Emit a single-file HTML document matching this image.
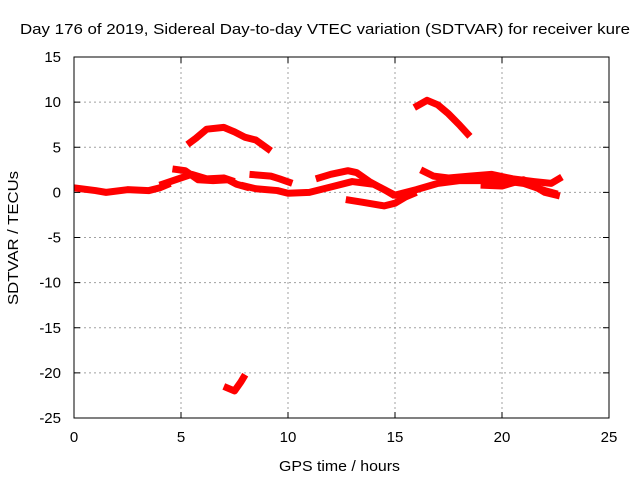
<!DOCTYPE html>
<html><head><meta charset="utf-8"><style>
body{margin:0;background:#fff;}
svg{display:block;font-family:"Liberation Sans",sans-serif;}
</style></head><body>
<svg id="chart" width="640" height="480">
<text x="20" y="34" font-size="15" textLength="610" lengthAdjust="spacingAndGlyphs">Day 176 of 2019, Sidereal Day-to-day VTEC variation (SDTVAR) for receiver kure</text>
<text x="279" y="471" font-size="15" textLength="121" lengthAdjust="spacingAndGlyphs">GPS time / hours</text>
<text x="18" y="238" font-size="15" text-anchor="middle" textLength="134" lengthAdjust="spacingAndGlyphs" transform="rotate(-90 18 238)">SDTVAR / TECUs</text>
<g id="grid"></g><g id="series"></g><g id="axes"></g>
</svg>
<script>
const xTicks=[0,5,10,15,20,25];
const yTicks=[15,10,5,0,-5,-10,-15,-20,-25];
const segX=[
[0,1,1.5,2.5,3.5,4,4.5],
[5.3,5.7,6.2,7,7.5,8,8.5,9.2],
[4.6,5.2,5.8,6.5,7.2,7.6,8.2],
[4,5,5.5,6.2,7,7.5],
[7.8,8.5,9.5,10,11,12,13,14,14.5,15,16,17,18,19,20,21,22,22.6],
[8.2,9.2,9.6,10.2],
[11.3,12,12.8,13.2,13.8,14.5,15],
[12.7,13.5,14.5,15,15.5,16],
[16.2,16.8,17.5,18.5,19.5,20.5,21.5,22.3,22.8],
[15.9,16.5,17,17.5,18,18.5],
[7,7.5,7.8,8],
[19,20,21,22,22.7]
];
const segY=[
[0.5,0.2,0,0.3,0.2,0.5,1.0],
[5.3,6,7,7.2,6.7,6.1,5.8,4.6],
[2.6,2.4,1.4,1.3,1.4,0.9,0.5],
[0.8,1.6,2.0,1.5,1.6,1.2],
[0.8,0.4,0.2,-0.1,0,0.6,1.2,0.9,0.3,-0.3,0.3,1.0,1.3,1.3,1.3,1.0,0.2,-0.2],
[2.0,1.8,1.5,1.0],
[1.5,2.0,2.4,2.2,1.2,0.3,-0.4],
[-0.8,-1.1,-1.5,-1.2,-0.5,0],
[2.5,1.8,1.6,1.8,2.0,1.5,1.2,1.0,1.7],
[9.4,10.2,9.7,8.7,7.5,6.2],
[-21.5,-22,-21,-20.2],
[0.8,0.7,1.4,0.0,-0.4]
];
const X0=74,X1=609,Y0=57,Y1=418;
const sx=v=>X0+(v-0)/(25-0)*(X1-X0);
const sy=v=>Y1-(v+25)/(40)*(Y1-Y0);
const NS="http://www.w3.org/2000/svg";
const grid=document.getElementById('grid'),axes=document.getElementById('axes'),ser=document.getElementById('series');
function mk(tag,attrs,parent){const e=document.createElementNS(NS,tag);for(const k in attrs)e.setAttribute(k,attrs[k]);parent.appendChild(e);return e;}
xTicks.forEach(t=>{const x=sx(t);
 if(t>0&&t<25){const g=mk('line',{x1:x,x2:x,y1:Y0,y2:Y1,stroke:'#a0a0a0','stroke-dasharray':'2,3'},grid);
 
 }
 mk('line',{x1:x,x2:x,y1:Y1,y2:Y1-6,stroke:'#000'},axes);
 mk('line',{x1:x,x2:x,y1:Y0,y2:Y0+6,stroke:'#000'},axes);
 const tx=mk('text',{x:x,y:Y1+24,'font-size':15,'text-anchor':'middle'},axes);tx.textContent=t;
 
 
});
yTicks.forEach(t=>{const y=sy(t);
 if(t>-25&&t<15){const g=mk('line',{x1:X0,x2:X1,y1:y,y2:y,stroke:'#a0a0a0','stroke-dasharray':'2,3'},grid);
 
 }
 mk('line',{x1:X0,x2:X0+6,y1:y,y2:y,stroke:'#000'},axes);
 mk('line',{x1:X1,x2:X1-6,y1:y,y2:y,stroke:'#000'},axes);
 const tx=mk('text',{x:X0-13,y:y+5,'font-size':15,'text-anchor':'end'},axes);tx.textContent=t;
 
 
});
const fr=mk('rect',{x:X0,y:Y0,width:X1-X0,height:Y1-Y0,fill:'none',stroke:'#000'},axes);


segX.forEach((xs,i)=>{const ys=segY[i];
 const pts=xs.map((v,j)=>sx(v)+','+sy(ys[j])).join(' ');
 const p=mk('polyline',{points:pts,fill:'none',stroke:'#ff0000','stroke-width':7,'stroke-linejoin':'round','stroke-linecap':'butt'},ser);
 
 
});
</script>
</body></html>
